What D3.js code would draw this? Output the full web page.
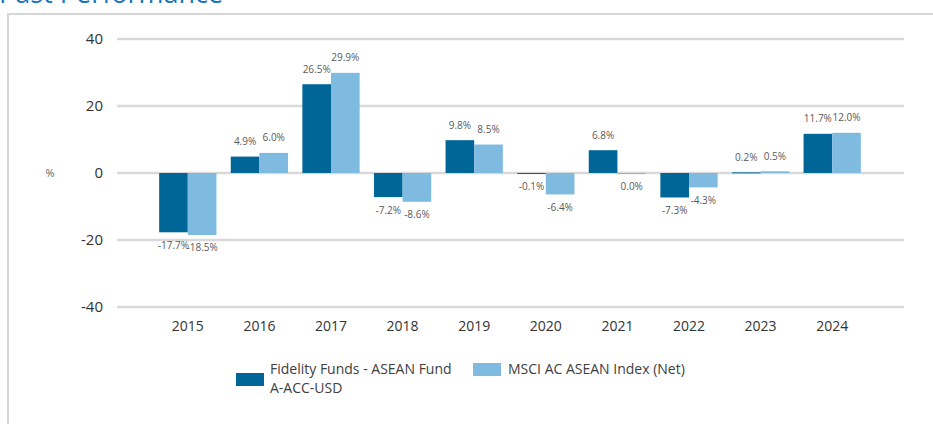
<!DOCTYPE html>
<html>
<head>
<meta charset="utf-8">
<script src="https://cdn.jsdelivr.net/npm/d3@7"></script>
<style>
  body { margin: 0; background: #fff; }
  svg { display: block; font-family: "Open Sans", sans-serif; }
</style>
</head>
<body>
<div id="chart"></div>
<script>
const years = ["2015", "2016", "2017", "2018", "2019", "2020", "2021", "2022", "2023", "2024"];
const fundValues = [-17.7, 4.9, 26.5, -7.2, 9.8, -0.1, 6.8, -7.3, 0.2, 11.7];
const indexValues = [-18.5, 6.0, 29.9, -8.6, 8.5, -6.4, 0.0, -4.3, 0.5, 12.0];
const seriesNames = ["Fidelity Funds - ASEAN Fund A-ACC-USD", "MSCI AC ASEAN Index (Net)"];
const yTicks = [-40, -20, 0, 20, 40];

const width = 933, height = 424;
const colors = ["#006597", "#7fbbe1"];

const svg = d3.select("#chart").append("svg")
  .attr("width", width).attr("height", height);

// title (mostly cut off at top) and frame
svg.append("text")
  .attr("x", -1).attr("y", 3)
  .attr("fill", "#1a75bc")
  .attr("font-size", 27)
  .text("Past Performance");

svg.append("path")
  .attr("d", `M8,${height} V14 H${width}`)
  .attr("fill", "none")
  .attr("stroke", "#d6d6d6")
  .attr("stroke-width", 2);

const x = d3.scaleBand().domain(years).range([152, 868]).paddingInner(0.2).paddingOuter(0.1);
const x1 = d3.scaleBand().domain([0, 1]).range([0, x.bandwidth()]);
const y = d3.scaleLinear().domain([-40, 40]).range([307, 39]);

// gridlines
svg.append("g")
  .selectAll("line")
  .data(yTicks)
  .join("line")
  .attr("x1", 117).attr("x2", 904)
  .attr("y1", d => y(d)).attr("y2", d => y(d))
  .attr("stroke", "#d9d9d9")
  .attr("stroke-width", 2.5);

// y tick labels
svg.append("g")
  .selectAll("text")
  .data(yTicks)
  .join("text")
  .attr("x", 103).attr("y", d => y(d))
  .attr("dy", "0.35em")
  .attr("text-anchor", "end")
  .attr("font-size", 15)
  .attr("fill", "#333")
  .text(d => d);

svg.append("text")
  .attr("x", 50).attr("y", y(0))
  .attr("dy", "0.35em")
  .attr("text-anchor", "middle")
  .attr("font-size", 11)
  .attr("fill", "#666")
  .text("%");

// x labels
svg.append("g")
  .selectAll("text")
  .data(years)
  .join("text")
  .attr("x", d => x(d) + x.bandwidth() / 2)
  .attr("y", 326)
  .attr("dy", "0.35em")
  .attr("text-anchor", "middle")
  .attr("font-size", 14)
  .attr("fill", "#333")
  .text(d => d);

const rows = [];
years.forEach((yr, i) => {
  rows.push({ year: yr, s: 0, v: fundValues[i] });
  rows.push({ year: yr, s: 1, v: indexValues[i] });
});

const bars = svg.append("g");
bars.selectAll("rect")
  .data(rows)
  .join("rect")
  .attr("x", d => x(d.year) + x1(d.s))
  .attr("width", x1.bandwidth())
  .attr("y", d => y(Math.max(0, d.v)))
  .attr("height", d => Math.max(1, Math.abs(y(d.v) - y(0))))
  .attr("fill", d => colors[d.s]);

bars.selectAll("text")
  .data(rows)
  .join("text")
  .attr("x", d => x(d.year) + x1(d.s) + x1.bandwidth() / 2)
  .attr("y", d => d.v > 0 ? y(d.v) - 15 : y(d.v) + 13)
  .attr("dy", "0.35em")
  .attr("text-anchor", "middle")
  .attr("font-size", 10)
  .attr("fill", "#5a5a5a")
  .text(d => d.v.toFixed(1) + "%");

// legend
const legend = svg.append("g").attr("font-size", 14).attr("fill", "#404040");
legend.append("rect").attr("x", 236).attr("y", 373).attr("width", 28).attr("height", 13).attr("fill", colors[0]);
legend.append("text").attr("x", 270).attr("y", 374)
  .selectAll("tspan")
  .data(["Fidelity Funds - ASEAN Fund", "A-ACC-USD"])
  .join("tspan")
  .attr("x", 270)
  .attr("dy", (d, i) => i ? 19 : 0)
  .text(d => d);
legend.append("rect").attr("x", 473).attr("y", 363).attr("width", 28).attr("height", 13).attr("fill", colors[1]);
legend.append("text").attr("x", 508).attr("y", 374).text(seriesNames[1]);
</script>
</body>
</html>
